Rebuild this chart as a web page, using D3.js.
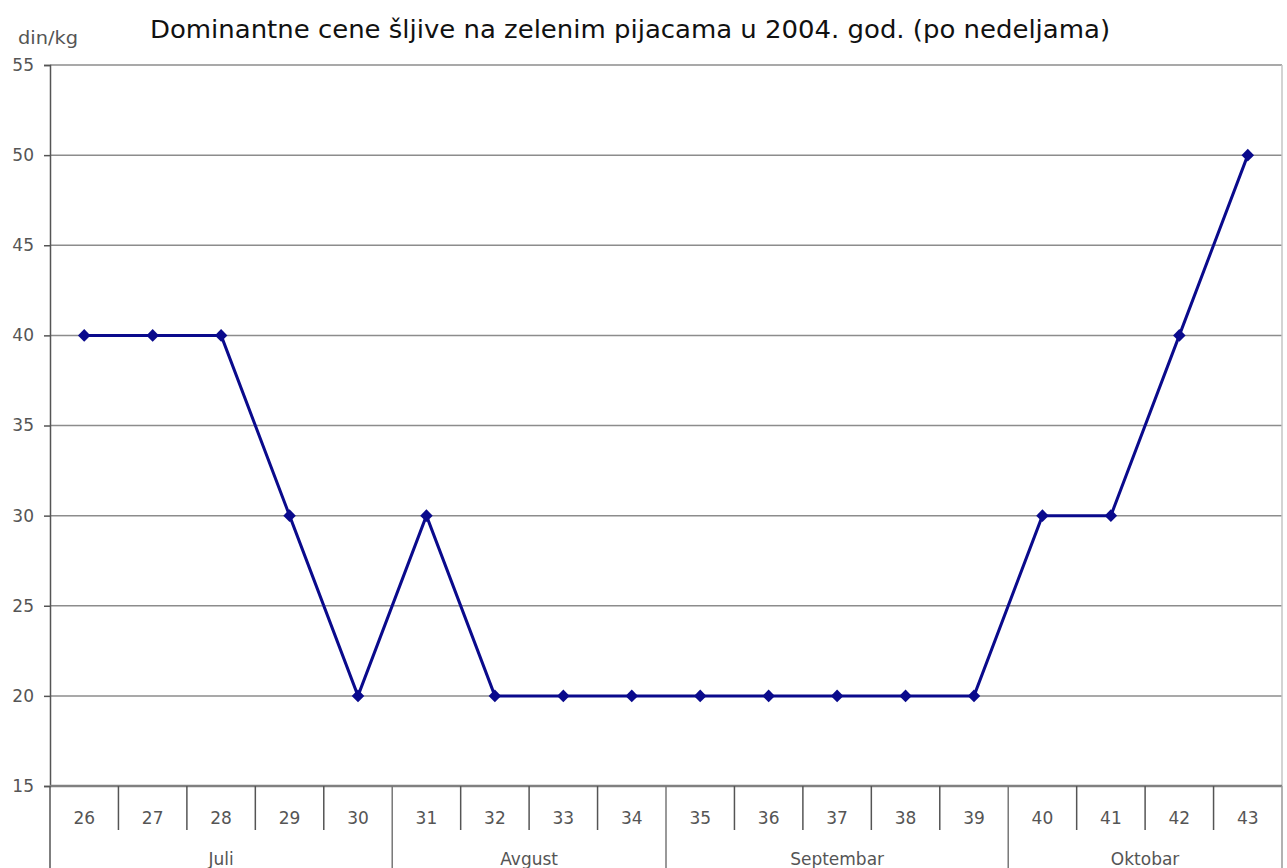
<!DOCTYPE html>
<html><head><meta charset="utf-8">
<script src="https://cdn.jsdelivr.net/npm/d3@7"></script>
<style>body{margin:0;background:#fff}svg{display:block}</style>
</head><body>
<svg id="c" width="1287" height="868"></svg>
<script>
const weeks = ["26","27","28","29","30","31","32","33","34","35","36","37","38","39","40","41","42","43"];
const prices = [40,40,40,30,20,30,20,20,20,20,20,20,20,20,30,30,40,50];
const months = [
  {name:"Juli", first:"26", last:"30"},
  {name:"Avgust", first:"31", last:"34"},
  {name:"Septembar", first:"35", last:"39"},
  {name:"Oktobar", first:"40", last:"43"}
];
const yTicks = [15,20,25,30,35,40,45,50,55];
const titleText = "Dominantne cene šljive na zelenim pijacama u 2004. god. (po nedeljama)";
const unitText = "din/kg";

const svg = d3.select("#c");
const L = 50, R = 1282, T = 65, B = 786;
const x = d3.scaleBand().domain(weeks).range([L, R]);
const y = d3.scaleLinear().domain([15, 55]).range([B, T]);
const font = "Tahoma, 'DejaVu Sans', Verdana, sans-serif";
const labelCol = "#555";

// gridlines
svg.append("g").selectAll("line").data(yTicks.filter(d => d > 15)).join("line")
  .attr("x1", L).attr("x2", R).attr("y1", d => y(d)).attr("y2", d => y(d))
  .attr("stroke", "#8c8c8c").attr("stroke-width", 1.5);
// right border
svg.append("line").attr("x1", R).attr("x2", R).attr("y1", T).attr("y2", B)
  .attr("stroke", "#c4c4c4").attr("stroke-width", 1.5);

// y axis
const yAxis = svg.append("g").attr("transform", `translate(${L},0)`)
  .call(d3.axisLeft(y).tickValues(yTicks).tickSize(6).tickPadding(10));
yAxis.select(".domain").attr("stroke", "#555").attr("stroke-width", 1.5);
yAxis.selectAll(".tick line").attr("stroke", "#555").attr("stroke-width", 1.5);
yAxis.selectAll("text").attr("font-family", font).attr("font-size", 17).attr("fill", labelCol);

// x axis baseline
svg.append("line").attr("x1", L).attr("x2", R).attr("y1", B).attr("y2", B)
  .attr("stroke", "#808080").attr("stroke-width", 2.5);
// left axis extended to bottom
svg.append("line").attr("x1", L).attr("x2", L).attr("y1", B).attr("y2", 868)
  .attr("stroke", "#555").attr("stroke-width", 1.5);

// week separators
const monthStarts = new Set(months.map(m => m.first));
svg.append("g").selectAll("line").data(weeks.slice(1)).join("line")
  .attr("x1", d => x(d)).attr("x2", d => x(d))
  .attr("y1", B).attr("y2", d => monthStarts.has(d) ? 868 : 830)
  .attr("stroke", d => monthStarts.has(d) ? "#777" : "#555").attr("stroke-width", 1.5);
// right end separator
svg.append("line").attr("x1", R).attr("x2", R).attr("y1", B).attr("y2", 868)
  .attr("stroke", "#999").attr("stroke-width", 1.5);

// week labels
svg.append("g").selectAll("text").data(weeks).join("text")
  .attr("x", d => x(d) + x.bandwidth() / 2).attr("y", 824)
  .attr("text-anchor", "middle").attr("font-family", font).attr("font-size", 17).attr("fill", labelCol)
  .text(d => d);
// month labels
svg.append("g").selectAll("text").data(months).join("text")
  .attr("x", m => (x(m.first) + x(m.last) + x.bandwidth()) / 2).attr("y", 865)
  .attr("text-anchor", "middle").attr("font-family", font).attr("font-size", 17).attr("fill", labelCol)
  .text(m => m.name);

// line
const line = d3.line().x((d, i) => x(weeks[i]) + x.bandwidth() / 2).y(d => y(d));
svg.append("path").datum(prices).attr("d", line)
  .attr("fill", "none").attr("stroke", "#0a0a8c").attr("stroke-width", 3).attr("stroke-linejoin", "round");
svg.append("g").selectAll("path").data(prices).join("path")
  .attr("d", d3.symbol(d3.symbolDiamond2, 100))
  .attr("transform", (d, i) => `translate(${x(weeks[i]) + x.bandwidth() / 2},${y(d)})`)
  .attr("fill", "#0a0a8c");

// titles
svg.append("text").attr("x", 630).attr("y", 38).attr("text-anchor", "middle")
  .attr("font-family", font).attr("font-size", 25).attr("fill", "#111")
  .attr("textLength", 960).attr("lengthAdjust", "spacingAndGlyphs").text(titleText);
svg.append("text").attr("x", 18).attr("y", 44)
  .attr("font-family", font).attr("font-size", 17).attr("fill", labelCol)
  .attr("textLength", 60).attr("lengthAdjust", "spacingAndGlyphs").text(unitText);
</script>
</body></html>
